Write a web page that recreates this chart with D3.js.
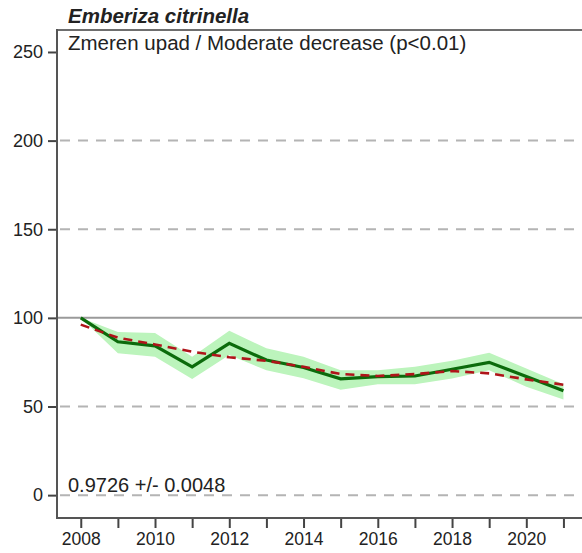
<!DOCTYPE html>
<html>
<head>
<meta charset="utf-8">
<script src="https://cdn.jsdelivr.net/npm/d3@7/dist/d3.min.js"></script>
<style>
  html, body { margin: 0; padding: 0; background: #fff; }
  svg { display: block; font-family: "Liberation Sans", Arial, sans-serif; }
</style>
</head>
<body>
<svg id="chart" width="582" height="553"></svg>
<script>
// Population index of Emberiza citrinella, 2008 = 100
const years = [2008, 2009, 2010, 2011, 2012, 2013, 2014, 2015, 2016, 2017, 2018, 2019, 2020, 2021];
const indexValues = [100, 86.5, 84.2, 72.4, 85.6, 76.2, 72.0, 65.6, 66.8, 67.2, 71.0, 74.9, 66.9, 58.9];
const lowerCI = [100, 80.0, 78.0, 65.5, 79.0, 70.5, 66.0, 59.5, 62.6, 62.6, 65.8, 70.5, 61.1, 54.0];
const upperCI = [100, 92.0, 91.4, 78.0, 92.7, 82.8, 78.0, 70.5, 70.5, 72.4, 75.8, 80.3, 71.5, 62.6];
const trendValues = [96.2, 88.8, 85.0, 80.9, 77.8, 75.8, 72.4, 68.3, 67.2, 68.3, 70.0, 68.7, 65.3, 62.3];
const yTicks = [0, 50, 100, 150, 200, 250];
const xLabelYears = [2008, 2010, 2012, 2014, 2016, 2018, 2020];

const title = "Emberiza citrinella";
const subtitle = "Zmeren upad / Moderate decrease (p<0.01)";
const slopeText = "0.9726 +/- 0.0048";

(function drawChart() {
  const svg = d3.select("#chart");
  const mLeft = 57, mRight = 582, mTop = 30, mBottom = 518;
  const font = "'Liberation Sans', Arial, sans-serif";

  const x = d3.scaleLinear().domain([2007.36, 2021.5]).range([mLeft, mRight]);
  const y = d3.scaleLinear().domain([-12.9, 262.4]).range([mBottom, mTop]);

  // Horizontal reference lines: dashed grid, solid line at 100
  svg.append("g").selectAll("line")
    .data(yTicks.filter(v => v !== 250))
    .join("line")
    .attr("x1", mLeft).attr("x2", mRight)
    .attr("y1", d => y(d)).attr("y2", d => y(d))
    .attr("stroke", d => d === 100 ? "#9a9a9a" : "#b4b4b4")
    .attr("stroke-width", 2)
    .attr("stroke-dasharray", d => d === 100 ? null : "10,8")
    .attr("stroke-dashoffset", -3);

  // Confidence band
  svg.append("path")
    .datum(years.map((yr, i) => ({ yr, lo: lowerCI[i], hi: upperCI[i] })))
    .attr("fill", "#bcf4bc")
    .attr("stroke", "none")
    .attr("d", d3.area().x(d => x(d.yr)).y0(d => y(d.lo)).y1(d => y(d.hi)));

  // Index line
  svg.append("path")
    .datum(years.map((yr, i) => ({ yr, v: indexValues[i] })))
    .attr("fill", "none")
    .attr("stroke", "#0b6b0b")
    .attr("stroke-width", 3.2)
    .attr("d", d3.line().x(d => x(d.yr)).y(d => y(d.v)));

  // Trend line
  svg.append("path")
    .datum(years.map((yr, i) => ({ yr, v: trendValues[i] })))
    .attr("fill", "none")
    .attr("stroke", "#b0141a")
    .attr("stroke-width", 2.6)
    .attr("stroke-dasharray", "9,6")
    .attr("d", d3.line().x(d => x(d.yr)).y(d => y(d.v)));

  // Frame top
  svg.append("line")
    .attr("x1", mLeft).attr("x2", mRight).attr("y1", mTop).attr("y2", mTop)
    .attr("stroke", "#6e6e6e").attr("stroke-width", 1.8);

  // Y axis
  const yAxis = svg.append("g")
    .attr("transform", `translate(${mLeft},0)`)
    .call(d3.axisLeft(y).tickValues(yTicks).tickSize(9).tickPadding(5).tickFormat(d3.format("d")));
  yAxis.select(".domain").remove();
  yAxis.selectAll(".tick line").attr("stroke", "#444").attr("stroke-width", 2);
  yAxis.selectAll(".tick text").attr("font-size", 18).attr("fill", "#222")
    .attr("font-family", font);
  svg.append("line")
    .attr("x1", mLeft).attr("x2", mLeft).attr("y1", mTop - 1).attr("y2", mBottom + 1)
    .attr("stroke", "#555").attr("stroke-width", 2);

  // X axis
  const xAxis = svg.append("g")
    .attr("transform", `translate(0,${mBottom})`)
    .call(d3.axisBottom(x).tickValues(years).tickSize(10).tickPadding(5)
      .tickFormat(d => xLabelYears.includes(d) ? String(d) : ""));
  xAxis.select(".domain").remove();
  xAxis.selectAll(".tick line").attr("stroke", "#444").attr("stroke-width", 2);
  xAxis.selectAll(".tick text").attr("font-size", 17.5).attr("fill", "#222")
    .attr("font-family", font);
  svg.append("line")
    .attr("x1", mLeft - 1).attr("x2", mRight).attr("y1", mBottom).attr("y2", mBottom)
    .attr("stroke", "#555").attr("stroke-width", 2);

  // Texts
  svg.append("text").attr("x", 68).attr("y", 23)
    .attr("font-size", 20.5).attr("font-weight", "bold").attr("font-style", "italic")
    .attr("fill", "#222").text(title);
  svg.append("text").attr("x", 68).attr("y", 49.5)
    .attr("font-size", 20.5).attr("fill", "#222").text(subtitle);
  svg.append("text").attr("x", 68).attr("y", 491.5)
    .attr("font-size", 20).attr("fill", "#222").text(slopeText);
})();
</script>
</body>
</html>
